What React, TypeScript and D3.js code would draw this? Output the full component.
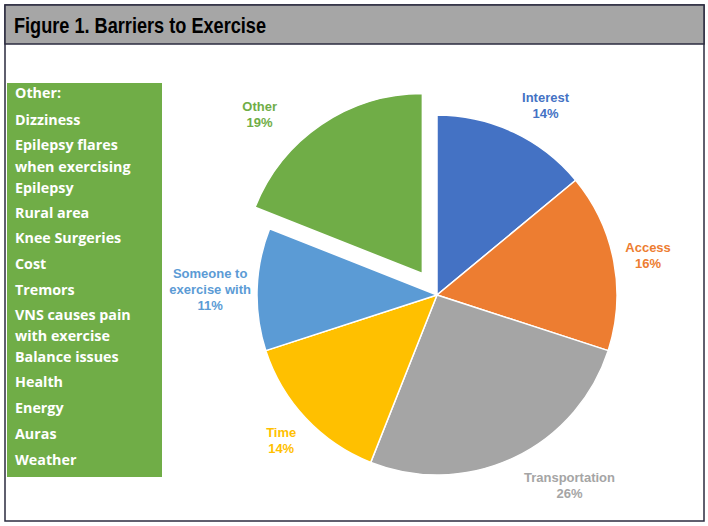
import React from "react";
import * as d3 from "d3";

const categories = ["Interest", "Access", "Transportation", "Time", "Someone to exercise with", "Other"];
const percents = [14, 16, 26, 14, 11, 19];
const sliceColors = ["#4472c4", "#ed7d31", "#a5a5a5", "#ffc000", "#5b9bd5", "#70ad47"];
const labelLines = [["Interest"], ["Access"], ["Transportation"], ["Time"], ["Someone to", "exercise with"], ["Other"]];
const otherReasons = [
  "Other:", "Dizziness", "Epilepsy flares", "when exercising", "Epilepsy", "Rural area",
  "Knee Surgeries", "Cost", "Tremors", "VNS causes pain", "with exercise", "Balance issues",
  "Health", "Energy", "Auras", "Weather",
];
const exploded = "Other";

// layout only: where Excel's "best fit" put each label, relative to the centroid
const labelNudge: [number, number][] = [[14, 11], [-7, 2], [38, -10], [6, -7], [-5, 1], [-38, 25]];
const reasonY = [93, 120, 145, 167, 188, 213, 238, 264, 290, 315, 336, 357, 382, 408, 434, 460];

interface Slice {
  label: string;
  value: number;
}

const data: Slice[] = categories.map((c, i) => ({ label: c, value: percents[i] }));

export default function App() {
  const W = 708;
  const H = 526;
  const cx = 437;
  const cy = 295;
  const radius = 180;

  const pie = d3.pie<Slice>().sort(null).value((d) => d.value);
  const arcs = pie(data);
  const arc = d3.arc<d3.PieArcDatum<Slice>>().innerRadius(0).outerRadius(radius);
  const labelArc = d3.arc<d3.PieArcDatum<Slice>>().innerRadius(222).outerRadius(222);
  const pct = d3.format(".0f");

  return (
    <svg width={W} height={H} style={{ position: "absolute", left: 0, top: 0, background: "#fff" }}>
      {/* frame + title bar */}
      <rect x={5} y={5} width={699} height={516} fill="#fff" stroke="#2b2b3f" strokeWidth={1.5} />
      <rect x={5} y={5} width={699} height={39} fill="#a6a6a6" stroke="#2b2b3f" strokeWidth={1.5} />
      <text x={14} y={33} fontFamily="'Liberation Sans', Arial, sans-serif" fontWeight="bold" fontSize={22}
        textLength={252} lengthAdjust="spacingAndGlyphs" fill="#000">
        Figure 1. Barriers to Exercise
      </text>

      {/* green box of other reasons */}
      <rect x={7} y={83} width={155} height={394} fill="#70ad47" />
      {otherReasons.map((r, i) => (
        <text key={i} x={15} y={reasonY[i]} dy="0.35em" fill="#fff" fontFamily="'Open Sans', sans-serif"
          fontWeight="bold" fontSize={14.3}>
          {r}
        </text>
      ))}

      <g transform={`translate(${cx},${cy})`}>
        {arcs.map((a, i) => {
          const mid = (a.startAngle + a.endAngle) / 2;
          const off = a.data.label === exploded ? 26 : 0;
          const dx = Math.sin(mid) * off;
          const dy = -Math.cos(mid) * off;
          const [cxL, cyL] = labelArc.centroid(a);
          const lx = cxL + labelNudge[i][0];
          const ly = cyL + labelNudge[i][1];
          const lines = [...labelLines[i], `${pct(a.data.value)}%`];
          return (
            <g key={a.data.label} transform={`translate(${dx},${dy})`}>
              <path d={arc(a) || ""} fill={sliceColors[i]} stroke="#fff" strokeWidth={1.5} />
              <text x={lx} y={ly - (lines.length - 1) * 8} textAnchor="middle" fill={sliceColors[i]}
                fontFamily="'Liberation Sans', Arial, sans-serif" fontWeight="bold" fontSize={13}>
                {lines.map((t, j) => (
                  <tspan key={j} x={lx} dy={j === 0 ? "0.35em" : 16}>{t}</tspan>
                ))}
              </text>
            </g>
          );
        })}
      </g>
    </svg>
  );
}
